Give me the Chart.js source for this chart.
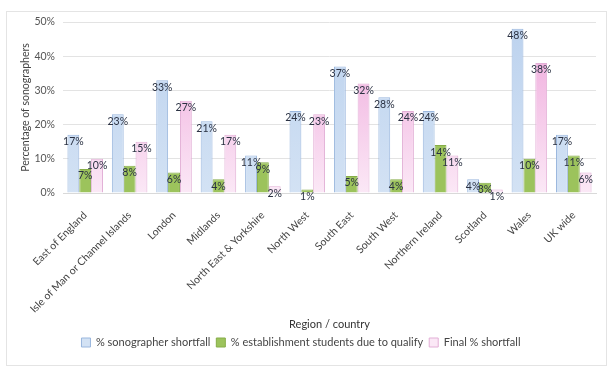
<!DOCTYPE html>
<html>
<head>
<meta charset="utf-8">
<script src="https://cdn.jsdelivr.net/npm/chart.js@4/dist/chart.umd.min.js"></script>
<style>
  html, body { margin: 0; padding: 0; background: #fff; }
  #wrap { width: 611px; height: 376px; position: relative; }
</style>
</head>
<body>
<div id="wrap"><canvas id="chart" width="611" height="376"></canvas></div>
<script>
const regions = ["East of England", "Isle of Man or Channel Islands", "London", "Midlands",
  "North East & Yorkshire", "North West", "South East", "South West", "Northern Ireland",
  "Scotland", "Wales", "UK wide"];
const shortfall = [17, 23, 33, 21, 11, 24, 37, 28, 24, 4, 48, 17];
const dueToQualify = [7, 8, 6, 4, 9, 1, 5, 4, 14, 3, 10, 11];
const finalShortfall = [10, 15, 27, 17, 2, 23, 32, 24, 11, 1, 38, 6];
const yTicks = [0, 10, 20, 30, 40, 50];

const FONT = "Lato, 'Open Sans', sans-serif";

// vertical gradient helper for bar fills
function grad(top, bottom) {
  return ctx => {
    const area = ctx.chart.chartArea;
    if (!area) return top;
    const g = ctx.chart.ctx.createLinearGradient(0, area.top, 0, area.bottom);
    g.addColorStop(0, top);
    g.addColorStop(1, bottom);
    return g;
  };
}

// value labels near the top of each bar
const barLabels = {
  id: "barLabels",
  afterDatasetsDraw(chart) {
    const c = chart.ctx;
    c.save();
    c.font = "10.5px " + FONT;
    c.fillStyle = "#2a3142";
    c.textAlign = "center";
    c.textBaseline = "middle";
    chart.data.datasets.forEach((ds, i) => {
      chart.getDatasetMeta(i).data.forEach((bar, j) => {
        c.fillText(ds.data[j] + "%", bar.x, bar.y + 7);
      });
    });
    c.restore();
  }
};

// thin outer frame like the original
const frame = {
  id: "frame",
  beforeDraw(chart) {
    const c = chart.ctx;
    c.save();
    c.strokeStyle = "#e4e4e4";
    c.lineWidth = 1;
    c.strokeRect(6.5, 11.5, 600, 354);
    c.restore();
  }
};

new Chart(document.getElementById("chart"), {
  type: "bar",
  data: {
    labels: regions,
    datasets: [
      {
        label: "% sonographer shortfall",
        data: shortfall,
        backgroundColor: grad("#bcd2ee", "#d3e2f4"),
        borderColor: "#9ab7de",
        borderWidth: 1
      },
      {
        label: "% establishment students due to qualify",
        data: dueToQualify,
        backgroundColor: "#9cc35c",
        borderColor: "#86ad48",
        borderWidth: 1
      },
      {
        label: "Final % shortfall",
        data: finalShortfall,
        backgroundColor: grad("#eea6da", "#fbe8f6"),
        borderColor: "#e2afd6",
        borderWidth: 1
      }
    ]
  },
  options: {
    responsive: false,
    animation: false,
    layout: { padding: { left: 6, top: 22, right: 15, bottom: 18 } },
    datasets: { bar: { categoryPercentage: 0.8, barPercentage: 1.0 } },
    plugins: {
      tooltip: { enabled: false },
      legend: {
        position: "bottom",
        labels: {
          boxWidth: 9,
          boxHeight: 9,
          padding: 6,
          color: "#444",
          font: { family: FONT, size: 11 }
        }
      }
    },
    scales: {
      x: {
        grid: { display: false },
        border: { color: "#d9d9d9" },
        ticks: {
          autoSkip: false,
          minRotation: 45,
          maxRotation: 45,
          padding: 8,
          color: "#444",
          font: { family: FONT, size: 10.5 }
        },
        title: {
          display: true,
          text: "Region / country",
          color: "#333",
          font: { family: FONT, size: 11 },
          padding: { top: 0, bottom: 0 }
        },
        afterFit(scale) { scale.height = 138; }
      },
      y: {
        min: 0,
        max: 50,
        afterBuildTicks(scale) { scale.ticks = yTicks.map(v => ({ value: v })); },
        grid: { color: "#e3e3e3", drawTicks: false },
        border: { display: false },
        ticks: {
          padding: 8,
          color: "#555",
          font: { family: FONT, size: 10.5 },
          callback: v => v + "%"
        },
        title: {
          display: true,
          text: "Percentage of sonographers",
          color: "#444",
          font: { family: FONT, size: 10.5 },
          padding: { top: 13, bottom: 0 }
        },
        afterFit(scale) { scale.width = 57; }
      }
    }
  },
  plugins: [frame, barLabels]
});
</script>
</body>
</html>
